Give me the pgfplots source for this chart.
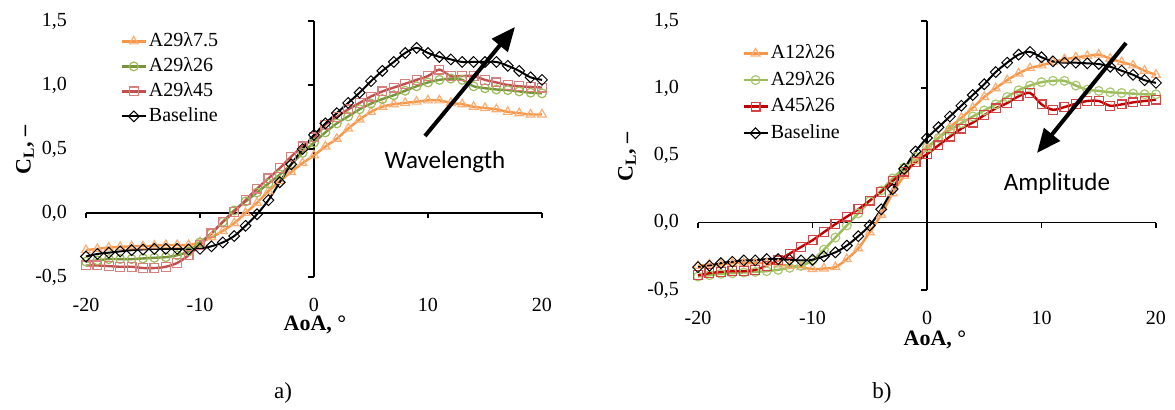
\documentclass[border=0pt]{standalone}
\usepackage{pgfplots}
\pgfplotsset{compat=1.18}
\usepackage{pgfplotstable}
\usepackage{fontspec}
\setmainfont{Liberation Serif}
\newfontfamily\calibri{Carlito}
\usetikzlibrary{arrows.meta}

\definecolor{orL}{HTML}{F79646}
\definecolor{orM}{HTML}{F9AE78}
\definecolor{gaL}{HTML}{77933C}
\definecolor{gaM}{HTML}{9BBB59}
\definecolor{raL}{HTML}{C0504D}
\definecolor{raM}{HTML}{D7807E}
\definecolor{gbL}{HTML}{9BBB59}
\definecolor{gbM}{HTML}{A9C76E}
\definecolor{rbL}{HTML}{C00000}
\definecolor{rbM}{HTML}{D54545}

% lift coefficient vs angle of attack, wavelength series
\pgfplotstableread{
aoa   s1     s2     s3     base
-20  -0.29  -0.38  -0.41  -0.34
-19  -0.28  -0.37  -0.41  -0.32
-18  -0.27  -0.36  -0.415 -0.31
-17  -0.265 -0.36  -0.42  -0.30
-16  -0.26  -0.36  -0.42  -0.29
-15  -0.26  -0.355 -0.43  -0.285
-14  -0.255 -0.35  -0.43  -0.28
-13  -0.25  -0.345 -0.42  -0.28
-12  -0.25  -0.33  -0.39  -0.28
-11  -0.25  -0.30  -0.33  -0.285
-10  -0.23  -0.23  -0.25  -0.28
-9   -0.19  -0.16  -0.16  -0.26
-8   -0.14  -0.07  -0.07  -0.23
-7   -0.08   0.02   0.01  -0.18
-6    0.00   0.09   0.10  -0.10
-5    0.08   0.16   0.19  -0.01
-4    0.17   0.23   0.27   0.10
-3    0.25   0.30   0.35   0.24
-2    0.32   0.38   0.44   0.38
-1    0.39   0.47   0.52   0.50
0     0.45   0.55   0.59   0.61
1     0.52   0.63   0.69   0.70
2     0.58   0.70   0.75   0.78
3     0.66   0.755  0.81   0.86
4     0.73   0.81   0.86   0.94
5     0.79   0.855  0.91   1.03
6     0.83   0.89   0.95   1.11
7     0.85   0.92   0.98   1.18
8     0.86   0.955  1.01   1.25
9     0.87   0.99   1.04   1.29
10    0.88   1.02   1.07   1.25
11    0.88   1.04   1.12   1.22
12    0.86   1.05   1.07   1.20
13    0.85   1.04   1.07   1.18
14    0.83   0.99   1.07   1.18
15    0.82   0.975  1.04   1.18
16    0.81   0.965  1.02   1.18
17    0.79   0.96   1.00   1.15
18    0.78   0.95   0.99   1.11
19    0.77   0.94   0.985  1.06
20    0.77   0.935  0.98   1.04
}\dataA

% lift coefficient vs angle of attack, amplitude series
\pgfplotstableread{
aoa   s1     s2     s3     base
-20  -0.32  -0.40  -0.39  -0.33
-19  -0.31  -0.39  -0.375 -0.32
-18  -0.31  -0.38  -0.365 -0.30
-17  -0.30  -0.375 -0.36  -0.29
-16  -0.30  -0.37  -0.36  -0.28
-15  -0.30  -0.365 -0.35  -0.28
-14  -0.30  -0.36  -0.32  -0.27
-13  -0.31  -0.35  -0.28  -0.27
-12  -0.32  -0.335 -0.23  -0.275
-11  -0.33  -0.32  -0.18  -0.28
-10  -0.345 -0.28  -0.13  -0.275
-9   -0.34  -0.20  -0.07  -0.25
-8   -0.33  -0.11  -0.01  -0.22
-7   -0.27  -0.02   0.045 -0.17
-6   -0.19   0.07   0.10  -0.10
-5   -0.07   0.16   0.165 -0.02
-4    0.06   0.24   0.23   0.10
-3    0.22   0.33   0.31   0.25
-2    0.35   0.41   0.38   0.40
-1    0.46   0.49   0.45   0.53
0     0.55   0.56   0.51   0.63
1     0.63   0.63   0.575  0.71
2     0.71   0.69   0.64   0.79
3     0.78   0.74   0.70   0.87
4     0.855  0.79   0.745  0.95
5     0.935  0.835  0.80   1.03
6     1.00   0.88   0.85   1.12
7     1.06   0.935  0.89   1.19
8     1.11   0.985  0.94   1.25
9     1.15   1.02   0.965  1.27
10    1.17   1.045  0.88   1.23
11    1.195  1.055  0.84   1.20
12    1.215  1.055  0.86   1.19
13    1.23   1.02   0.885  1.19
14    1.24   0.99   0.905  1.185
15    1.25   0.98   0.905  1.18
16    1.22   0.97   0.87   1.16
17    1.195  0.965  0.88   1.13
18    1.17   0.96   0.895  1.10
19    1.13   0.955  0.905  1.06
20    1.10   0.955  0.915  1.04
}\dataB

\pgfplotsset{
  clpanel/.style={
    scale only axis,
    xmin=-20, xmax=20, ymin=-0.5, ymax=1.5,
    axis x line*=bottom, axis y line*=left,
    axis line style={draw=none},
    major tick length=0pt,
    xtick={-20,-10,0,10,20},
    xticklabels={-20,-10,0,10,20},
    ytick={-0.5,0,0.5,1,1.5},
    yticklabels={{-0,5},{0,0},{0,5},{1,0},{1,5}},
    tick label style={font=\fontsize{10}{12}\selectfont},
    xticklabel style={yshift=-7pt},
    yticklabel style={xshift=-6pt},
    clip=false,
    legend cell align=left,
    legend style={draw=none, fill=none, inner sep=0pt,
      font=\fontsize{10}{12}\selectfont,
      nodes={inner sep=0.5pt, text height=7pt, text depth=2pt},
      column sep=0.5pt},
    legend image code/.code={%
      \draw[mark repeat=2, mark phase=2, #1]
        plot coordinates {(0pt,0pt) (6pt,0pt) (12pt,0pt)};},
  },
  ser/.style n args={4}{smooth, color=#1, line width=1.2pt, mark=#3,
    mark size=#4, mark options={draw=#2, fill=none, line width=0.6pt, solid}},
  base/.style={smooth, color=black, line width=1pt, mark=square, mark size=1.9pt,
    mark options={rotate=45, draw=black, fill=white, line width=0.5pt}},
}

\begin{document}
\begin{tikzpicture}
\useasboundingbox (0pt,0pt) rectangle (587.5pt,-205pt);

% ---------- a) wavelength ----------
\begin{axis}[clpanel, width=228pt, height=128pt,
  at={(43pt,-138.5pt)}, anchor=south west,
  legend style={at={(0.075,0.961)}, anchor=north west, row sep=2.5pt}]
  \draw[black, line width=0.75pt] (axis cs:-20,0) -- (axis cs:20,0);
  \draw[black, line width=0.75pt] (axis cs:0,-0.5) -- (axis cs:0,1.5);
  \pgfplotsinvokeforeach{-20,-10,0,10,20}{\draw[black, line width=0.75pt] (axis cs:#1,0) -- ++(0pt,-2.5pt);}
  \pgfplotsinvokeforeach{-0.5,0,0.5,1,1.5}{\draw[black, line width=0.75pt] (axis cs:0,#1) -- ++(-3pt,0pt);}
  \addplot[ser={orL}{orM}{triangle}{2.5pt}] table[x=aoa, y=s1] {\dataA};
  \addplot[ser={gaL}{gaM}{o}{2.2pt}] table[x=aoa, y=s2] {\dataA};
  \addplot[ser={raL}{raM}{square}{2.2pt}] table[x=aoa, y=s3] {\dataA};
  \addplot[base] table[x=aoa, y=base] {\dataA};
  \legend{A29λ7.5, A29λ26, A29λ45, Baseline}
\end{axis}

% ---------- b) amplitude ----------
\begin{axis}[clpanel, width=229pt, height=134.5pt,
  at={(349pt,-145pt)}, anchor=south west,
  legend style={at={(0.096,0.918)}, anchor=north west, row sep=3.3pt}]
  \draw[black, line width=0.75pt] (axis cs:-20,0) -- (axis cs:20,0);
  \draw[black, line width=0.75pt] (axis cs:0,-0.5) -- (axis cs:0,1.5);
  \pgfplotsinvokeforeach{-20,-10,0,10,20}{\draw[black, line width=0.75pt] (axis cs:#1,0) -- ++(0pt,-2.5pt);}
  \pgfplotsinvokeforeach{-0.5,0,0.5,1,1.5}{\draw[black, line width=0.75pt] (axis cs:0,#1) -- ++(-3pt,0pt);}
  \addplot[ser={orL}{orM}{triangle}{2.5pt}] table[x=aoa, y=s1] {\dataB};
  \addplot[ser={gbL}{gbM}{o}{2.2pt}] table[x=aoa, y=s2] {\dataB};
  \addplot[ser={rbL}{rbM}{square}{2.2pt}] table[x=aoa, y=s3] {\dataB};
  \addplot[base] table[x=aoa, y=base] {\dataB};
  \legend{A12λ26, A29λ26, A45λ26, Baseline}
\end{axis}

% axis titles
\node[rotate=90, font=\bfseries\fontsize{11}{13}\selectfont] at (12.5pt,-75pt) {C\textsubscript{L}, --};
\node[rotate=90, font=\bfseries\fontsize{11}{13}\selectfont] at (313.5pt,-78.5pt) {C\textsubscript{L}, --};
\node[font=\bfseries\fontsize{11}{13}\selectfont] at (157.5pt,-162.5pt) {AoA, °};
\node[font=\bfseries\fontsize{11}{13}\selectfont] at (467.5pt,-170pt) {AoA, °};

% trend arrows
\draw[line width=2pt, -{Triangle[length=12pt, width=10pt]}] (212.5pt,-68pt) -- (257.5pt,-13.5pt);
\node[font=\calibri\fontsize{12.5}{15}\selectfont] at (222.5pt,-81pt) {Wavelength};
\draw[line width=2pt, -{Triangle[length=12pt, width=10pt]}] (563pt,-21.5pt) -- (518.5pt,-76.5pt);
\node[font=\calibri\fontsize{12.5}{15}\selectfont] at (528.5pt,-92pt) {Amplitude};

% panel captions
\node[font=\fontsize{11.5}{14}\selectfont] at (141.5pt,-196.5pt) {a)};
\node[font=\fontsize{11.5}{14}\selectfont] at (441pt,-196.5pt) {b)};
\end{tikzpicture}
\end{document}
